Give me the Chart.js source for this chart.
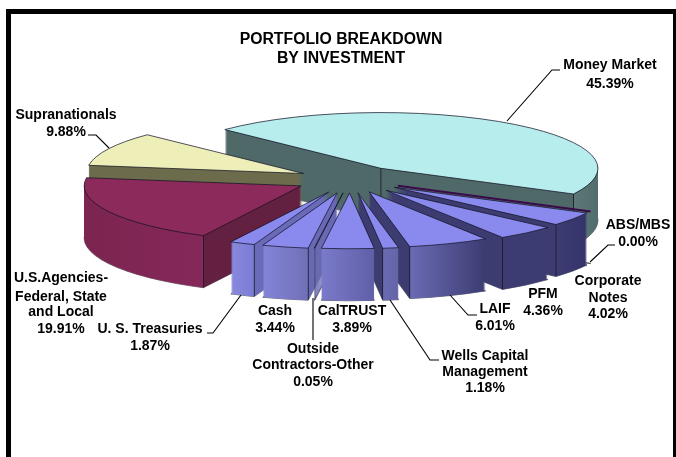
<!DOCTYPE html>
<html><head><meta charset="utf-8">
<style>html,body{margin:0;padding:0;background:#fff}#w{position:relative;width:676px;height:457px}canvas{display:block}</style>
<script src="https://cdn.jsdelivr.net/npm/chart.js@4/dist/chart.umd.min.js"></script>
</head><body><div id="w"><canvas id="c" width="676" height="457"></canvas></div>
<script>
// ---- data ----
const categories = ['Money Market','ABS/MBS','Corporate Notes','PFM','LAIF','Wells Capital Management','CalTRUST','Outside Contractors-Other','Cash','U. S. Treasuries','U.S.Agencies-Federal, State and Local','Supranationals'];
const percents = [45.39,0.00,4.02,4.36,6.01,1.18,3.89,0.05,3.44,1.87,19.91,9.88];
const titleLines = ['PORTFOLIO BREAKDOWN','BY INVESTMENT'];

// ---- style / layout ----
const ROTATION=-46, RADIUS=217, CX=350, CY=179.4, SQUASH=0.257, DEPTH=52;
const explode=[53,54,54,56,52,53,53,53,54,54,55,52];
const topColors=['#b8eded','#3a0a4a','#8a8aee','#8a8aee','#8a8aee','#8a8aee','#8a8aee','#8a8aee','#8a8aee','#8a8aee','#8c2b5b','#eeeeb9'];
// wall colours: [curved-wall colour at left, at right, cut wall]
const walls=[
 ['#5b7876','#4f6b6b','#4f6868'],['#3a0a4a','#3a0a4a','#3a0a4a'],['#3c3c72','#34346a','#3c3c70'],['#3c3c72','#3c3c72','#3c3c70'],
 ['#6a6ab4','#3c3c72','#3c3c70'],['#6a6ab2','#6464a8','#3c3c70'],['#7a7aca','#5f5fa8','#5a5aa0'],['#7070c0','#7070c0','#6a6ab0'],
 ['#8484d8','#7070b8','#6868b4'],['#8888de','#7c7cd4','#6a6ab8'],['#7c2550','#85285a','#642040'],['#6c6c4c','#6c6c4c','#6c6c4c']];
const EDGE='#1c1c2c';
const labelLayout=[
 {x:610,y:[65,84],lead:[[507,121],[552,70],[560,70]],lines:['Money Market']},
 {x:638,y:[225,242],lead:[[590,262],[608,245],[615,245]],lines:['ABS/MBS']},
 {x:608,y:[281,298,314],lines:['Corporate','Notes']},
 {x:543,y:[294,311],lines:['PFM']},
 {x:495,y:[309,326],lead:[[450,295],[468,315],[477,315]],lines:['LAIF']},
 {x:485,y:[356,372,388],lead:[[390,300],[430,360],[439,360]],lines:['Wells Capital','Management']},
 {x:352,y:[311,328],lines:['CalTRUST']},
 {x:313,y:[349,365,382],lead:[[313,298],[313,340]],lines:['Outside','Contractors-Other']},
 {x:275,y:[311,328],lines:['Cash']},
 {x:150,y:[329,346],lead:[[207,333],[213,333],[241,295]],lines:['U. S. Treasuries']},
 {x:61,y:[278,297,312,329],lines:['U.S.Agencies-','Federal, State','and Local']},
 {x:66,y:[115,132],lead:[[88,135],[96,135],[109,148]],lines:['Supranationals']}
];

const pseudoPlugin={
 id:'pseudo3d',
 beforeDraw(chart){
  const c=chart.ctx;
  c.save();c.fillStyle='#fff';c.fillRect(0,0,chart.width,chart.height);
  c.fillStyle='#000';
  c.fillRect(6,9,670,5);c.fillRect(6,9,5,448);c.fillRect(673,9,3,448);
  c.restore();
 },
 beforeDatasetsDraw(chart){
  const c=chart.ctx, meta=chart.getDatasetMeta(0);
  const items=meta.data.map((arc,i)=>{
    const a1=arc.startAngle,a2=arc.endAngle,mid=(a1+a2)/2;
    return {arc,i,a1,a2,mid,dx:Math.cos(mid)*explode[i],dy:Math.sin(mid)*explode[i]};
  });
  items.sort((p,q)=>Math.sin(p.mid)-Math.sin(q.mid));
  const drawArc=(arc,fill)=>{
    const saved=arc.options;
    arc.options={backgroundColor:fill,borderWidth:0,borderColor:fill,borderAlign:'center',borderRadius:0,offset:0,spacing:0,circular:true,borderJoinStyle:'round'};
    arc.draw(c);arc.options=saved;
  };
  for(const s of items){
    const {arc,i,a1,a2}=s, R=arc.outerRadius;
    const place=(d)=>{c.setTransform(1,0,0,1,0,0);c.translate(CX,CY+d);c.scale(1,SQUASH);c.translate(s.dx-arc.x,s.dy-arc.y);};
    // horizontal gradient for the walls, with hard stops at the front corners
    const x0=arc.x-R-2,x1=arc.x+R+2,w=x1-x0,p=x=>Math.min(1,Math.max(0,(x-x0)/w));
    const g=c.createLinearGradient(x0,0,x1,0);
    const [wl,wr,wc]=walls[i];
    const X1=arc.x+R*Math.cos(a1),X2=arc.x+R*Math.cos(a2),e=0.002;
    const stops=[];
    const hard=(x,ca,cb)=>{stops.push([p(x)-e,ca]);stops.push([p(x),EDGE]);stops.push([p(x)+e,cb]);};
    const startVis=Math.cos(a1)<0, endVis=Math.cos(a2)>0;
    if(startVis&&endVis){            // largest slice: both cut walls show
      stops.push([0,wl]);hard(X1,wc,wc);hard(arc.x,wc,wc);hard(X2,wc,wl);stops.push([1,wr]);
    }else if(startVis){              // left side: curved left of the corner, cut right of it
      stops.push([p(X2),wl]);hard(X1,wr,wc);stops.push([1,wc]);
    }else if(endVis){                // right side: cut left of the corner, curved to the right
      stops.push([0,wc]);hard(X2,wc,wl);stops.push([p(X1),wr]);
    }else{                           // front slice: only the curved wall
      stops.push([p(X2),wl]);stops.push([p(X1),wr]);
    }
    stops.sort((u,v)=>u[0]-v[0]).forEach(st=>g.addColorStop(Math.min(1,Math.max(0,st[0])),st[1]));
    const path=(d)=>{c.save();place(d);c.beginPath();c.moveTo(arc.x,arc.y);c.arc(arc.x,arc.y,R,a1,a2);c.closePath();c.restore();};
    // silhouette outline goes first, so the wall layers hide its inner part
    c.save();c.lineWidth=1;c.strokeStyle='rgba(20,20,30,.6)';path(DEPTH);c.stroke();c.restore();
    for(let d=DEPTH;d>0;d--){c.save();place(d);drawArc(arc,g);c.restore();}
    c.save();place(0);drawArc(arc,topColors[i]);c.restore();
    c.save();c.lineWidth=i===1?2:0.9;c.strokeStyle=i===1?'#3a0a4a':'rgba(15,15,35,.8)';path(0);c.stroke();c.restore();
  }
  c.setTransform(1,0,0,1,0,0);
  return false;
 },
 afterDraw(chart){
  const c=chart.ctx;
  c.save();c.textAlign='center';c.textBaseline='middle';c.fillStyle='#000';c.font='bold 14px "Liberation Sans"';
  labelLayout.forEach((l,i)=>{
    const text=l.lines.concat(percents[i].toFixed(2)+'%');
    text.forEach((t,k)=>c.fillText(t,l.x,l.y[k]));
    if(l.lead){c.beginPath();l.lead.forEach((pt,k)=>k?c.lineTo(pt[0],pt[1]):c.moveTo(pt[0],pt[1]));c.strokeStyle='#000';c.lineWidth=1.1;c.stroke();}
  });
  c.restore();
 }
};

new Chart(document.getElementById('c'),{
 type:'pie',
 data:{labels:categories,datasets:[{data:percents.map(v=>v===0?0.004:v),backgroundColor:topColors,borderWidth:0}]},
 options:{responsive:false,animation:false,rotation:ROTATION,radius:RADIUS,
  layout:{padding:{left:6}},
  plugins:{legend:{display:false},tooltip:{enabled:false},
   title:{display:true,text:titleLines,color:'#000',font:{family:'"Liberation Sans"',size:15.8,weight:'bold',lineHeight:1.2},padding:{top:30,bottom:0}}}},
 plugins:[pseudoPlugin]
});
</script></body></html>
